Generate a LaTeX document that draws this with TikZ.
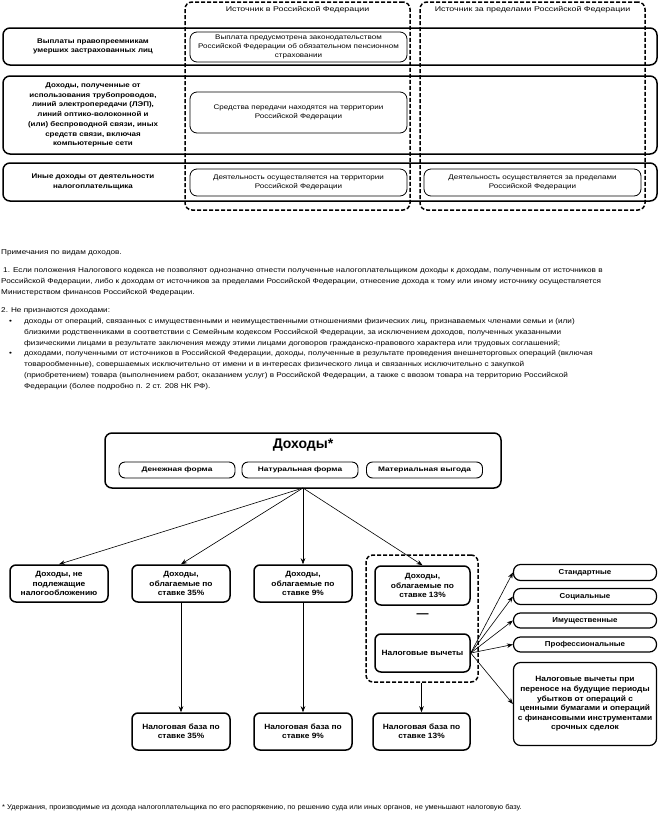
\documentclass[tikz,border=0pt]{standalone}
\usepackage{fontspec}
\setmainfont{Liberation Sans}
\newfontfamily\tblf[FakeStretch=1.3]{Liberation Sans}
\newfontfamily\cellf[FakeStretch=1.2]{Liberation Sans}
\newfontfamily\labf[FakeStretch=1.17]{Liberation Sans}
\newfontfamily\notef[FakeStretch=1.17]{Liberation Sans}
\newfontfamily\footf[FakeStretch=1.06]{Liberation Sans}
\newfontfamily\pillf[FakeStretch=1.28]{Liberation Sans}
\newfontfamily\boxf[FakeStretch=1.1]{Liberation Sans}
\usetikzlibrary{arrows.meta}
\begin{document}
\begin{tikzpicture}[x=1pt,y=-1pt,
  rowbox/.style={draw, line width=1.5pt, rounded corners=7pt, minimum width=654pt},
  dashcol/.style={draw, line width=1.5pt, rounded corners=7pt, dash pattern=on 4pt off 2pt, minimum width=225pt, minimum height=208pt},
  cellbox/.style={draw, line width=0.8pt, rounded corners=7pt, minimum width=217pt, align=center, font=\cellf\fontsize{6.7}{9.3}\selectfont, inner sep=1pt},
  lab/.style={align=center, font=\labf\bfseries\fontsize{6.8}{9.7}\selectfont},
  note/.style={anchor=west, inner sep=0pt, font=\notef\fontsize{7}{8}\selectfont},
  bbox/.style={draw, line width=1.5pt, rounded corners=6pt, align=center, inner sep=1pt, font=\boxf\bfseries\fontsize{7.6}{9.3}\selectfont},
  pill/.style={draw, line width=0.9pt, rounded corners=6pt, minimum width=116pt, minimum height=16pt, inner sep=0pt, font=\pillf\bfseries\fontsize{6.5}{8}\selectfont},
  rpill/.style={draw, line width=1.2pt, rounded corners=7pt, minimum width=143pt, inner sep=0pt, font=\boxf\bfseries\fontsize{7.2}{8.6}\selectfont},
  arr/.style={-{Stealth[length=6pt,width=4.5pt]}, line width=0.6pt}]
\useasboundingbox (0,0) rectangle (661,820);
% ---------- top table ----------
\node[rowbox, minimum height=37pt] (r1) at (330,46.5) {};
\node[rowbox, minimum height=78pt] (r2) at (330,115) {};
\node[rowbox, minimum height=38pt] (r3) at (330,182) {};
\node[lab] (l1) at (93,46.5) {Выплаты правопреемникам\\умерших застрахованных лиц};
\node[lab] (l2) at (93,115) {Доходы, полученные от\\использования трубопроводов,\\линий электропередачи (ЛЭП),\\линий оптико-волоконной и\\(или) беспроводной связи, иных\\средств связи, включая\\компьютерные сети};
\node[lab] (l3) at (93,182) {Иные доходы от деятельности\\налогоплательщика};
\node[dashcol] (c1) at (297.5,106) {};
\node[dashcol] (c2) at (532.5,106) {};
\node[font=\tblf\fontsize{6.8}{8}\selectfont] (h1) at (297.5,10) {Источник в Российской Федерации};
\node[font=\tblf\fontsize{6.8}{8}\selectfont] (h2) at (532.5,10) {Источник за пределами Российской Федерации};
\node[cellbox, minimum height=30pt] (a1) at (298.5,47) {Выплата предусмотрена законодательством\\Российской Федерации об обязательном пенсионном\\страховании};
\node[cellbox, minimum height=41pt] (a2) at (298.5,112.5) {Средства передачи находятся на территории\\Российской Федерации};
\node[cellbox, minimum height=27pt] (a3) at (298.5,182.5) {Деятельность осуществляется на территории\\Российской Федерации};
\node[cellbox, minimum height=27pt] (b3) at (532.5,182.5) {Деятельность осуществляется за пределами\\Российской Федерации};
% ---------- notes ----------
\node[note] (n0) at (1,253) {Примечания по видам доходов.};
\node[note] (n1a) at (3,271) {1. Если положения Налогового кодекса не позволяют однозначно отнести полученные налогоплательщиком доходы к доходам, полученным от источников в};
\node[note] (n1b) at (1,282) {Российской Федерации, либо к доходам от источников за пределами Российской Федерации, отнесение дохода к тому или иному источнику осуществляется};
\node[note] (n1c) at (1,293) {Министерством финансов Российской Федерации.};
\node[note] (n2) at (1,311) {2. Не признаются доходами:};
\node[note] (bu1) at (9,322) {•};
\node[note] (n2a) at (24,322) {доходы от операций, связанных с имущественными и неимущественными отношениями физических лиц, признаваемых членами семьи и (или)};
\node[note] (n2b) at (24,333) {близкими родственниками в соответствии с Семейным кодексом Российской Федерации, за исключением доходов, полученных указанными};
\node[note] (n2c) at (24,344) {физическими лицами в результате заключения между этими лицами договоров гражданско-правового характера или трудовых соглашений;};
\node[note] (bu2) at (9,354) {•};
\node[note] (n3a) at (24,354) {доходами, полученными от источников в Российской Федерации, доходы, полученные в результате проведения внешнеторговых операций (включая};
\node[note] (n3b) at (24,365) {товарообменные), совершаемых исключительно от имени и в интересах физического лица и связанных исключительно с закупкой};
\node[note] (n3c) at (24,376) {(приобретением) товара (выполнением работ, оказанием услуг) в Российской Федерации, а также с ввозом товара на территорию Российской};
\node[note] (n3d) at (24,387) {Федерации (более подробно п. 2 ст. 208 НК РФ).};
% ---------- bottom diagram ----------
\node[draw, line width=1.5pt, rounded corners=7pt, minimum width=396pt, minimum height=55pt] (inc) at (303,460.5) {};
\node[font=\bfseries\fontsize{14}{16}\selectfont] (inct) at (303,445) {Доходы*};
\node[pill] (p1) at (177,470) {Денежная форма};
\node[pill] (p2) at (300,470) {Натуральная форма};
\node[pill] (p3) at (424.5,470) {Материальная выгода};
\coordinate (src) at (303,488);
\node[bbox, minimum width=98pt, minimum height=37pt] (d0) at (59,583.5) {Доходы, не\\подлежащие\\налогообложению};
\node[bbox, minimum width=98pt, minimum height=37pt] (d35) at (181,583.5) {Доходы,\\облагаемые по\\ставке 35\%};
\node[bbox, minimum width=98pt, minimum height=37pt] (d9) at (303,583.5) {Доходы,\\облагаемые по\\ставке 9\%};
\node[draw, line width=1.5pt, rounded corners=7pt, dash pattern=on 4pt off 2pt, minimum width=112pt, minimum height=127pt] (grp) at (422,618.5) {};
\node[bbox, minimum width=95pt, minimum height=39pt] (d13) at (422.5,585.5) {Доходы,\\облагаемые по\\ставке 13\%};
\node[font=\bfseries\fontsize{12}{12}\selectfont] (minus) at (422.5,616) {—};
\node[bbox, minimum width=95pt, minimum height=38pt] (nv) at (422.5,653) {Налоговые вычеты};
\node[bbox, minimum width=98pt, minimum height=37pt] (b35) at (181,731.5) {Налоговая база по\\ставке 35\%};
\node[bbox, minimum width=98pt, minimum height=37pt] (b9) at (303,731.5) {Налоговая база по\\ставке 9\%};
\node[bbox, minimum width=97pt, minimum height=37pt] (b13) at (421.5,731.5) {Налоговая база по\\ставке 13\%};
\node[rpill, minimum height=16pt] (s1) at (585,572.5) {Стандартные};
\node[rpill, minimum height=16pt] (s2) at (585,596.5) {Социальные};
\node[rpill, minimum height=15pt] (s3) at (585,620.5) {Имущественные};
\node[rpill, minimum height=15pt] (s4) at (585,644.5) {Профессиональные};
\node[bbox, line width=1.2pt, rounded corners=7pt, minimum width=143pt, minimum height=83pt, font=\boxf\bfseries\fontsize{7.6}{9.6}\selectfont] (s5) at (585,704) {Налоговые вычеты при\\переносе на будущие периоды\\убытков от операций с\\ценными бумагами и операций\\с финансовыми инструментами\\срочных сделок};
% connectors
\draw[arr] (src) -- (d0.north);
\draw[arr] (src) -- (d35.north);
\draw[arr] (src) -- (d9.north);
\draw[arr] (src) -- (d13.north);
\draw[arr] (d35) -- (b35);
\draw[arr] (d9) -- (b9);
\draw[arr] (grp.south -| b13.north) -- (b13.north);
\coordinate (nvr) at (nv.east);
\draw[arr] (nvr) -- (s1.west);
\draw[arr] (nvr) -- (s2.west);
\draw[arr] (nvr) -- (s3.west);
\draw[arr] (nvr) -- (s4.west);
\draw[arr] (nvr) -- (s5.west);
% footnote
\node[note, font=\footf\fontsize{7}{8}\selectfont] (fn) at (2,808) {* Удержания, производимые из дохода налогоплательщика по его распоряжению, по решению суда или иных органов, не уменьшают налоговую базу.};
\end{tikzpicture}
\end{document}
